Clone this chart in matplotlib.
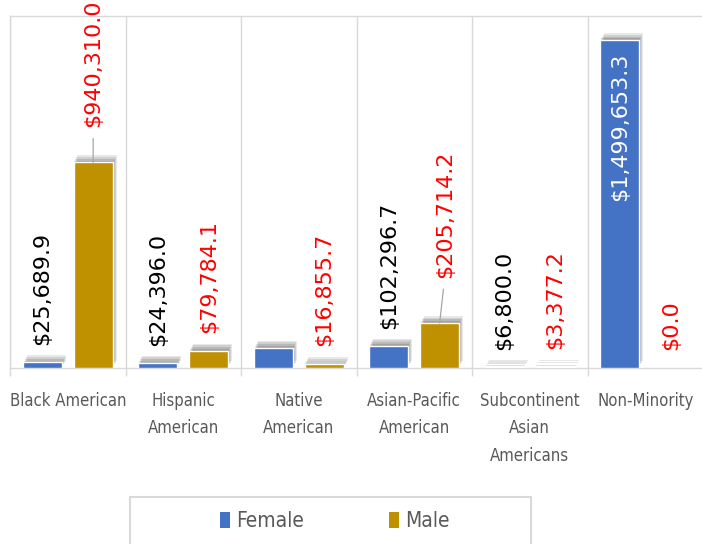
import numpy as np
import matplotlib
matplotlib.use("Agg")
from matplotlib import pyplot as plt
from matplotlib import patheffects as pe
from matplotlib import font_manager as fm
from matplotlib.patches import Rectangle

# chart data
categories = ["Black American", "Hispanic\nAmerican", "Native\nAmerican",
              "Asian-Pacific\nAmerican", "Subcontinent\nAsian\nAmericans", "Non-Minority"]
female = [25689.9, 24396.0, 93000.0, 102296.7, 6800.0, 1499653.3]
male = [940310.0, 79784.1, 16855.7, 205714.2, 3377.2, 0.0]
female_shown = [True, True, False, True, True, True]

blue = "#4472C4"
gold = "#BF9000"
grid_c = "#D9D9D9"
txt_c = "#595959"

# look for a narrow sans font for the axis / legend text
narrow_path = None
for f in fm.fontManager.ttflist:
    nm = f.fname.lower()
    if ("narrow" in nm or "condensed" in nm) and "bold" not in nm and "oblique" not in nm \
            and "italic" not in nm and "mono" not in nm and "serif" not in nm.replace("sans", ""):
        narrow_path = f.fname
        break


def narrow(size):
    if narrow_path:
        return fm.FontProperties(fname=narrow_path, size=size)
    return fm.FontProperties(family="Liberation Sans", size=size * 0.88)


W, H = 702, 544
fig = plt.figure(figsize=(W / 100, H / 100), dpi=100)
ax = fig.add_axes([10 / W, 176 / H, 693 / W, 352 / H])

x = np.arange(len(categories))
bw = 0.34
off = 0.22

shadow = [pe.SimplePatchShadow(offset=(0.7, 1.3), shadow_rgbFace="#303030", alpha=0.15),
          pe.SimplePatchShadow(offset=(1.4, 2.6), shadow_rgbFace="#303030", alpha=0.15),
          pe.SimplePatchShadow(offset=(2.1, 3.9), shadow_rgbFace="#303030", alpha=0.13),
          pe.SimplePatchShadow(offset=(2.8, 5.0), shadow_rgbFace="#303030", alpha=0.11),
          pe.Normal()]

bf = ax.bar(x - off, female, bw, color=blue, edgecolor="white", linewidth=1, zorder=3)
bm = ax.bar(x + off, male, bw, color=gold, edgecolor="white", linewidth=1, zorder=3)
for b in list(bf) + list(bm):
    b.set_path_effects(shadow)

ax.set_xlim(-0.5, len(categories) - 0.5)
ax.set_ylim(0, 1.61e6)

# category separators
bounds = np.arange(len(categories) + 1) - 0.5
ax.set_xticks(x)
ax.set_xticklabels(categories, color=txt_c, linespacing=1.68, fontproperties=narrow(12))
ax.set_xticks(bounds, minor=True)
ax.tick_params(axis="x", which="major", length=0, pad=17)
ax.tick_params(axis="x", which="minor", length=5.5, color=grid_c, width=1)
ax.grid(axis="x", which="minor", color=grid_c, lw=1, zorder=0)
ax.set_yticks([])
for s in ax.spines.values():
    s.set_color(grid_c)
    s.set_linewidth(1)


def money(v):
    return "${:,.1f}".format(v)


lab_font = dict(fontsize=16, rotation=90, ha="center", va="bottom", family="DejaVu Sans")

for i in range(len(categories)):
    # female labels
    if female_shown[i]:
        if female[i] > 1e6:
            ax.annotate(money(female[i]), (x[i] - off, female[i]), xytext=(0, -12),
                        textcoords="offset pixels", color="white",
                        **{**lab_font, "va": "top"}, zorder=5)
        else:
            ax.annotate(money(female[i]), (x[i] - off, female[i]), xytext=(0, 17),
                        textcoords="offset pixels", color="black", **lab_font, zorder=5)
    # male labels
    if i == 0:
        ax.annotate(money(male[i]), (x[i] + off, male[i]), xytext=(0, 35),
                    textcoords="offset pixels", color="red", **lab_font, zorder=5,
                    arrowprops=dict(arrowstyle="-", color="#A6A6A6", lw=0.9,
                                    relpos=(0.5, 0), shrinkA=6, shrinkB=0))
    elif i == 3:
        ax.annotate(money(male[i]), (x[i] + off, male[i]), xytext=(5, 45),
                    textcoords="offset pixels", color="red", **lab_font, zorder=5,
                    arrowprops=dict(arrowstyle="-", color="#A6A6A6", lw=0.9,
                                    relpos=(0.5, 0), shrinkA=6, shrinkB=0))
    else:
        ax.annotate(money(male[i]), (x[i] + off, male[i]), xytext=(0, 18),
                    textcoords="offset pixels", color="red", **lab_font, zorder=5)

# legend drawn by hand so the box can run off the bottom edge
fig.patches.append(Rectangle((130 / W, -0.05), 401 / W, 0.05 + 47 / H,
                             transform=fig.transFigure, facecolor="white",
                             edgecolor=grid_c, lw=1.5))
leg_items = [("Female", blue, 220), ("Male", gold, 389)]
for name, col, px in leg_items:
    fig.patches.append(Rectangle((px / W, 1 - 528 / H), 10 / W, 16 / H,
                                 transform=fig.transFigure, facecolor=col, edgecolor="none"))
    fig.text((px + 16) / W, 1 - 521 / H, name, color=txt_c, va="center",
             ha="left", fontproperties=narrow(15))

fig.savefig("out.png", dpi=100)
